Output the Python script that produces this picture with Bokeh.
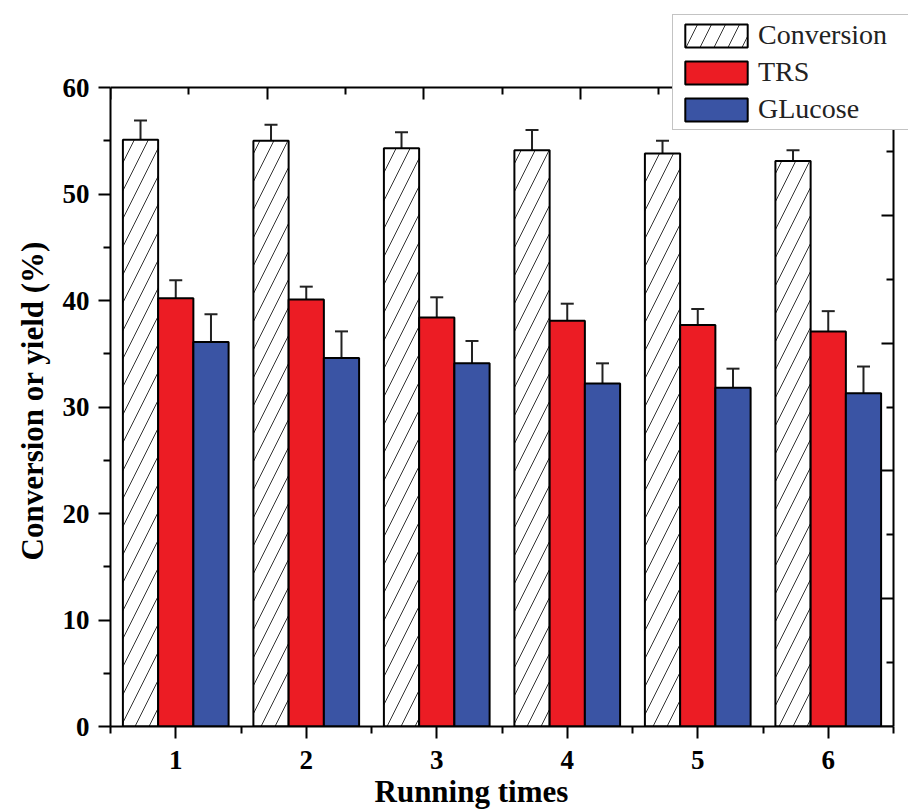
from bokeh.plotting import figure
from bokeh.models import (ColumnDataSource, Range1d, LinearAxis, FixedTicker, Whisker,
                          TeeHead, Legend, LegendItem, Title)
from bokeh.transform import dodge
from bokeh.embed import file_html
from bokeh.resources import INLINE

# ---- data ----
runs = [1, 2, 3, 4, 5, 6]
conversion = [55.1, 55.0, 54.3, 54.1, 53.8, 53.1]
conversion_err = [1.8, 1.5, 1.5, 1.9, 1.2, 1.0]
trs = [40.2, 40.1, 38.4, 38.1, 37.7, 37.1]
trs_err = [1.7, 1.2, 1.9, 1.6, 1.5, 1.9]
glucose = [36.1, 34.6, 34.1, 32.2, 31.8, 31.3]
glucose_err = [2.6, 2.5, 2.1, 1.9, 1.8, 2.5]
series_names = ["Conversion", "TRS", "GLucose"]
y_ticks = [0, 10, 20, 30, 40, 50, 60]
mirror_ticks = [0, 2, 4, 6, 8, 10]
mirror_minor = [1, 3, 5, 7, 9]
x_title = "Running times"
y_title = "Conversion or yield (%)"

src = ColumnDataSource(dict(
    run=runs,
    conv=conversion, conv_up=[v + e for v, e in zip(conversion, conversion_err)],
    trs=trs, trs_up=[v + e for v, e in zip(trs, trs_err)],
    glu=glucose, glu_up=[v + e for v, e in zip(glucose, glucose_err)],
))

FONT = "Liberation Serif"
RED = "#EC1C24"
BLUE = "#3A54A4"
W = 0.27

# ---- layout constants (pixels) ----
FIG_W, FIG_H = 908, 810
BOX_L, BOX_R, BOX_T, BOX_B = 110, 893, 87, 726   # box of the data area
x0, x1 = runs[0] - 0.5, runs[-1] + 0.5
y0, y1 = y_ticks[0], y_ticks[-1]
px_per_x = (BOX_R - BOX_L) / (x1 - x0)
px_per_y = (BOX_B - BOX_T) / (y1 - y0)
x_end = x0 + (FIG_W - BOX_L) / px_per_x
y_end = y0 + BOX_B / px_per_y

p = figure(width=FIG_W, height=FIG_H, output_backend="svg", toolbar_location=None,
           x_range=Range1d(x0, x_end), y_range=Range1d(y0, y_end),
           min_border_left=BOX_L, min_border_right=0, min_border_top=0,
           min_border_bottom=FIG_H - BOX_B,
           x_axis_location=None, y_axis_location=None)
p.xgrid.visible = False
p.ygrid.visible = False
p.outline_line_color = None
p.background_fill_color = "white"
p.border_fill_color = "white"

# bottom / left axes
xa = LinearAxis(ticker=FixedTicker(ticks=runs, minor_ticks=[r - 0.5 for r in runs] + [runs[-1] + 0.5]),
                bounds=(x0, x1))
ya = LinearAxis(ticker=FixedTicker(ticks=y_ticks, minor_ticks=[t + 5 for t in y_ticks[:-1]]),
                bounds=(y0, y1))
for ax in (xa, ya):
    ax.axis_line_width = 2
    ax.major_tick_line_width = 2
    ax.minor_tick_line_width = 2
    ax.major_tick_out = 12
    ax.major_tick_in = 0
    ax.minor_tick_out = 7
    ax.minor_tick_in = 0
    ax.major_label_text_font = FONT
    ax.major_label_text_font_style = "bold"
    ax.major_label_text_font_size = "27px"
    ax.major_label_text_color = "black"
xa.major_label_standoff = 12
ya.major_label_standoff = 9
p.add_layout(xa, "below")
p.add_layout(ya, "left")

# axis titles (placed like the reference, slightly off-centre)
tx = Title(text=x_title, align="left", offset=264, text_font=FONT, text_font_style="bold",
           text_font_size="31px", text_color="black", standoff=0)
ty = Title(text=y_title, align="left", offset=166, text_font=FONT, text_font_style="bold",
           text_font_size="31px", text_color="black", standoff=20)
p.add_layout(tx, "below")
p.add_layout(ty, "left")

# mirror axes (top / right) with their own 0-10 scale, ticks inward, no labels
p.extra_x_ranges = {"top": Range1d(0, 10 * (x_end - x0) / (x1 - x0))}
p.extra_y_ranges = {"right": Range1d(0, 10 * y_end / y1)}
ta = LinearAxis(x_range_name="top", fixed_location=y1, bounds=(0, 10),
                ticker=FixedTicker(ticks=mirror_ticks, minor_ticks=mirror_minor))
ra = LinearAxis(y_range_name="right", fixed_location=x1, bounds=(0, 10),
                ticker=FixedTicker(ticks=mirror_ticks, minor_ticks=mirror_minor))
for ax in (ta, ra):
    ax.axis_line_width = 2
    ax.major_tick_line_width = 2
    ax.minor_tick_line_width = 2
    ax.major_tick_in = 12
    ax.major_tick_out = 0
    ax.minor_tick_in = 7
    ax.minor_tick_out = 0
    ax.major_label_text_color = None
    ax.major_label_standoff = 0
p.add_layout(ta, "above")
p.add_layout(ra, "right")

# bars
r_conv = p.vbar(x=dodge("run", -W, range=p.x_range), top="conv", width=W, source=src,
                fill_color="white", line_color="black", line_width=2,
                hatch_pattern="/", hatch_color="#333333", hatch_weight=1, hatch_scale=28)
r_trs = p.vbar(x=dodge("run", 0, range=p.x_range), top="trs", width=W, source=src,
               fill_color=RED, line_color="black", line_width=2)
r_glu = p.vbar(x=dodge("run", W, range=p.x_range), top="glu", width=W, source=src,
               fill_color=BLUE, line_color="black", line_width=2)

# error bars (upper half only)
for off, lo, up in ((-W, "conv", "conv_up"), (0, "trs", "trs_up"), (W, "glu", "glu_up")):
    p.add_layout(Whisker(source=src, base=dodge("run", off, range=p.x_range), lower=lo, upper=up,
                         dimension="height", line_color="#222222", line_width=2,
                         lower_head=None,
                         upper_head=TeeHead(size=13, line_color="#222222", line_width=2)))

legend = Legend(items=[LegendItem(label=series_names[0], renderers=[r_conv]),
                       LegendItem(label=series_names[1], renderers=[r_trs]),
                       LegendItem(label=series_names[2], renderers=[r_glu])],
                location=(672 - BOX_L, BOX_B - 130))
legend.label_text_font = FONT
legend.label_text_font_size = "28px"
legend.label_text_color = "#222222"
legend.glyph_width = 78
legend.glyph_height = 29
legend.label_height = 23
legend.label_width = 170
legend.spacing = 5
legend.padding = 4
legend.margin = 0
legend.label_standoff = 3
legend.border_line_color = "#888888"
legend.border_line_width = 1
legend.background_fill_color = "white"
legend.background_fill_alpha = 1
p.add_layout(legend, "center")

open("out.html", "w").write(file_html(p, INLINE))
